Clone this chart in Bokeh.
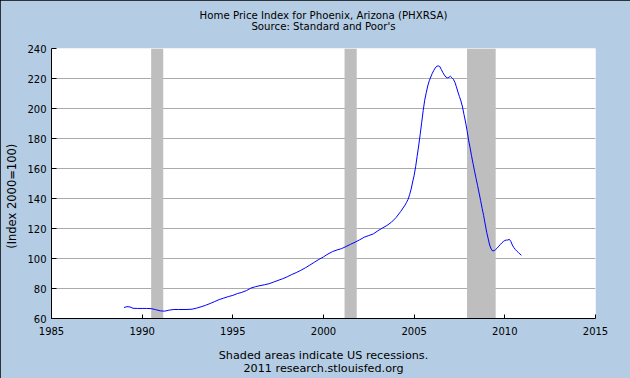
from datetime import date

from bokeh.embed import file_html
from bokeh.resources import INLINE
from bokeh.plotting import figure
from bokeh.models import Range1d, FixedTicker, Title, ColumnDataSource

# ---------------- data ----------------
dates = [
    "1989-01", "1989-03", "1989-05", "1989-07", "1989-10",
    "1990-01", "1990-04", "1990-07", "1990-10",
    "1991-01", "1991-04", "1991-07", "1991-10",
    "1992-01", "1992-06", "1992-10",
    "1993-01", "1993-04", "1993-07", "1993-10",
    "1994-01", "1994-04", "1994-07", "1994-10",
    "1995-01", "1995-04", "1995-07", "1995-10",
    "1996-01", "1996-04", "1996-07", "1996-10",
    "1997-01", "1997-04", "1997-07", "1997-10",
    "1998-01", "1998-04", "1998-07", "1998-10",
    "1999-01", "1999-04", "1999-07", "1999-10",
    "2000-01", "2000-04", "2000-07", "2000-10",
    "2001-01", "2001-04", "2001-07", "2001-10",
    "2002-01", "2002-04", "2002-07", "2002-10",
    "2003-01", "2003-04", "2003-07", "2003-10",
    "2004-01", "2004-04", "2004-07", "2004-08", "2004-09", "2004-10", "2004-11", "2004-12",
    "2005-01", "2005-02", "2005-03", "2005-04", "2005-05", "2005-06",
    "2005-07", "2005-08", "2005-09", "2005-10", "2005-11", "2005-12",
    "2006-01", "2006-02", "2006-03", "2006-04", "2006-05", "2006-06",
    "2006-07", "2006-08", "2006-09", "2006-10", "2006-11", "2006-12",
    "2007-01", "2007-02", "2007-03", "2007-04", "2007-05", "2007-06",
    "2007-07", "2007-08", "2007-09", "2007-10", "2007-11", "2007-12",
    "2008-01", "2008-02", "2008-03", "2008-04", "2008-05", "2008-06",
    "2008-07", "2008-08", "2008-09", "2008-10", "2008-11", "2008-12",
    "2009-01", "2009-02", "2009-03", "2009-04", "2009-05", "2009-06",
    "2009-07", "2009-08", "2009-09", "2009-10", "2009-11", "2009-12",
    "2010-01", "2010-02", "2010-03", "2010-04", "2010-05", "2010-06",
    "2010-07", "2010-08", "2010-09", "2010-10", "2010-11", "2010-12",
]
phxrsa = [
    67.3, 67.9, 67.7, 66.8, 66.7,
    66.7, 66.7, 66.6, 65.9,
    65.1, 64.9, 65.6, 66.0,
    66.0, 66.0, 66.2,
    66.9, 67.8, 68.8, 70.0,
    71.3, 72.6, 73.6, 74.6,
    75.4, 76.6, 77.4, 78.6,
    80.3, 81.2, 81.9, 82.5,
    83.2, 84.3, 85.4, 86.5,
    87.8, 89.3, 90.6, 92.1,
    93.8, 95.6, 97.5, 99.4,
    101.1, 103.0, 104.6, 105.7,
    106.6, 108.0, 109.5, 110.9,
    112.5, 114.2, 115.3, 116.4,
    118.5, 120.3, 122.0, 124.2,
    127.3, 131.2, 135.6, 137.5, 139.5, 142.5, 146.3, 151.0,
    155.5, 161.5, 168.0, 175.0, 182.5, 190.5,
    198.5, 205.5, 210.5, 215.0, 218.5, 221.0,
    223.5, 225.5, 227.0, 228.2, 228.4, 228.0,
    226.0, 224.0, 222.3, 221.0, 220.4, 220.8,
    221.5, 220.5, 219.5, 217.5, 214.5, 211.0,
    208.0, 205.0, 201.0, 196.0, 191.0, 185.5,
    178.9, 173.8, 168.5, 163.2, 158.2, 153.3,
    148.6, 143.6, 138.5, 133.4, 128.5, 123.0,
    117.5, 113.0, 109.0, 106.3, 105.0, 105.3,
    106.0, 107.0, 108.2, 109.3, 110.4, 111.3,
    112.0, 112.3, 112.3, 112.8, 111.5, 109.0,
    107.3, 106.0, 104.9, 104.0, 103.0, 102.2,
]

recession_starts = ["1990-07-01", "2001-03-01", "2007-12-01"]
recession_ends = ["1991-03-01", "2001-11-01", "2009-07-01"]

x_tick_years = [1985, 1990, 1995, 2000, 2005, 2010, 2015]
y_ticks = [60, 80, 100, 120, 140, 160, 180, 200, 220, 240]

title_text = "Home Price Index for Phoenix, Arizona (PHXRSA)"
subtitle_text = "Source: Standard and Poor's"
note_text = "Shaded areas indicate US recessions."
credit_text = "2011 research.stlouisfed.org"
y_label = "(Index 2000=100)"


def to_year(s):
    parts = [int(v) for v in s.split("-")]
    if len(parts) == 2:
        parts.append(1)
    d = date(*parts)
    start = date(d.year, 1, 1)
    days = (date(d.year + 1, 1, 1) - start).days
    return d.year + (d - start).days / days


FONT = "DejaVu Sans"
BLUEBG = "#B4CDE4"

p = figure(
    width=630, height=378,
    output_backend="svg", toolbar_location=None,
    x_range=Range1d(x_tick_years[0], x_tick_years[-1]),
    y_range=Range1d(y_ticks[0], y_ticks[-1]),
    min_border_left=51, min_border_right=35,
    min_border_top=48, min_border_bottom=60,
    background_fill_color="white",
    border_fill_color=BLUEBG,
    outline_line_color=None,
    title=None,
)
p.styles = {"outline": "1px solid black", "outline-offset": "-1px"}

# recession shading (glyph level, above grid, below line)
rec = ColumnDataSource(dict(
    left=[to_year(s) for s in recession_starts],
    right=[to_year(s) for s in recession_ends],
    bottom=[y_ticks[0]] * len(recession_starts),
    top=[y_ticks[-1]] * len(recession_starts),
))
p.quad(left="left", right="right", bottom="bottom", top="top", source=rec,
       fill_color="#BEBEBE", line_color=None)

src = ColumnDataSource(dict(x=[to_year(s) for s in dates], y=phxrsa))
p.line("x", "y", source=src, line_color="#0000FF", line_width=1)

# grid
p.xgrid.visible = False
p.ygrid.grid_line_color = "#ABABAB"
p.ygrid.grid_line_width = 1
p.ygrid.ticker = FixedTicker(ticks=y_ticks)

# axes
for ax in (p.xaxis[0], p.yaxis[0]):
    ax.axis_line_color = "black"
    ax.axis_line_width = 1
    ax.major_tick_line_color = "black"
    ax.major_tick_in = 5
    ax.major_tick_out = 0
    ax.minor_tick_line_color = None
    ax.major_label_text_font = FONT
    ax.major_label_text_font_size = "10px"
    ax.major_label_text_color = "black"

p.xaxis.ticker = FixedTicker(ticks=x_tick_years)
p.xaxis.major_tick_in = 4
p.xaxis.major_label_standoff = 8
p.yaxis.ticker = FixedTicker(ticks=y_ticks)
p.yaxis.major_label_standoff = 5
p.yaxis.axis_label = y_label + "\u00a0" * 7
p.yaxis.axis_label_text_font = FONT
p.yaxis.axis_label_text_font_size = "11.5px"
p.yaxis.axis_label_text_font_style = "normal"
p.yaxis.axis_label_text_color = "black"
p.yaxis.axis_label_standoff = 5


def mk_title(text, size, valign, standoff=0):
    return Title(text=text, align="center", text_font=FONT,
                 text_font_size=size, text_font_style="normal",
                 text_color="black", standoff=standoff, vertical_align=valign)


# blank spacer panels keep the gap between the frame and the titles
p.add_layout(mk_title("\u00a0", "1px", "top", standoff=12), "above")
p.add_layout(mk_title(subtitle_text, "10.2px", "top"), "above")
p.add_layout(mk_title(title_text, "10.2px", "bottom"), "above")

p.add_layout(mk_title("\u00a0", "1px", "top", standoff=5.5), "below")
p.add_layout(mk_title(note_text, "11.2px", "bottom"), "below")
p.add_layout(mk_title(credit_text, "11.2px", "top"), "below")

open("out.html", "w").write(file_html(p, INLINE))
